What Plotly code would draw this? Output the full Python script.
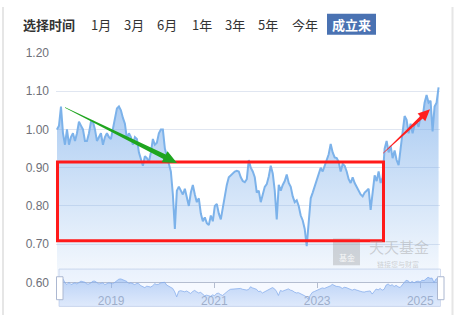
import math
import pandas as pd
import plotly.graph_objects as go

# ---------------- data ----------------
start_date = "2017-12-13"
nav = [
    1.00, 1.01, 1.06, 0.99, 0.96, 1.00, 0.96, 0.98, 0.99, 0.97,
    0.99, 1.02, 1.01, 1.00, 0.97, 0.97, 0.99, 1.02, 1.02, 1.00,
    0.97, 0.98, 0.99, 0.96, 0.98, 0.99, 0.98, 0.975, 1.00, 1.03,
    1.055, 1.06, 1.05, 1.03, 1.015, 0.975, 0.99, 0.98, 0.96, 0.98,
    0.975, 0.94, 0.92, 0.905, 0.93, 0.925, 0.915, 0.94, 0.975, 0.96,
    0.965, 0.99, 1.00, 1.00, 0.95, 0.93, 0.915, 0.89, 0.83, 0.74,
    0.84, 0.85, 0.84, 0.83, 0.845, 0.82, 0.80, 0.835, 0.855, 0.83,
    0.81, 0.82, 0.78, 0.76, 0.77, 0.755, 0.75, 0.775, 0.76, 0.80,
    0.805, 0.78, 0.765, 0.795, 0.83, 0.855, 0.875, 0.88, 0.887, 0.89,
    0.892, 0.89, 0.875, 0.865, 0.862, 0.87, 0.92, 0.90, 0.89, 0.875,
    0.835, 0.84, 0.81, 0.83, 0.85, 0.857, 0.877, 0.905, 0.885, 0.84,
    0.765, 0.855, 0.84, 0.855, 0.865, 0.882, 0.86, 0.85, 0.825, 0.81,
    0.815, 0.80, 0.775, 0.762, 0.74, 0.695, 0.77, 0.82, 0.835, 0.85,
    0.87, 0.885, 0.90, 0.89, 0.905, 0.915, 0.935, 0.962, 0.94, 0.927,
    0.925, 0.915, 0.89, 0.91, 0.905, 0.89, 0.87, 0.86, 0.875, 0.86,
    0.85, 0.84, 0.83, 0.825, 0.835, 0.84, 0.845, 0.79, 0.845, 0.88,
    0.865, 0.89, 0.86, 0.875, 0.95, 0.97, 0.94, 0.957, 0.925, 0.945,
    0.92, 0.907, 0.95, 1.00, 1.035, 1.025, 0.99, 1.015, 0.99, 1.012,
    1.02, 1.007, 1.035, 1.03, 1.07, 1.09, 1.07, 1.075, 0.995, 1.06,
    1.07, 1.11,
]
dates = pd.date_range(start_date, periods=len(nav), freq="340h")

year_ticks = ["2019-01-01", "2021-01-01", "2023-01-01", "2025-01-01"]
year_labels = ["2019", "2021", "2023", "2025"]
y_ticks = [0.6, 0.7, 0.8, 0.9, 1.0, 1.1, 1.2]
tab_labels = ["1月", "3月", "6月", "1年", "3年", "5年", "今年"]
active_tab = "成立来"
title_label = "选择时间"

# ---------------- layout helpers ----------------
W, H = 462, 322


def px(x):
    return x / W


def py(y):
    return 1 - y / H


CJK = "Noto Sans CJK SC"
NUMF = "Liberation Sans, Arial"

fig = go.Figure()

# main area series
fig.add_trace(go.Scatter(
    x=dates, y=nav, mode="lines",
    line=dict(color="rgb(124,178,234)", width=2),
    fill="tozeroy",
    fillgradient=dict(type="vertical",
                      colorscale=[[0, "rgba(120,172,234,0.03)"],
                                  [1, "rgba(110,166,232,0.62)"]],
                      start=0.6, stop=1.11),
    xaxis="x", yaxis="y", hoverinfo="skip",
))

# data shadow in the zoom slider
fig.add_trace(go.Scatter(
    x=dates, y=nav, mode="lines",
    line=dict(color="rgba(130,170,235,0.9)", width=0.8),
    fill="tozeroy",
    fillgradient=dict(type="vertical",
                      colorscale=[[0, "rgba(150,185,240,0.22)"],
                                  [1, "rgba(140,180,240,0.6)"]],
                      start=0.57, stop=1.11),
    xaxis="x2", yaxis="y2", hoverinfo="skip",
))

fig.update_layout(
    width=W, height=H,
    margin=dict(l=0, r=0, t=0, b=0),
    paper_bgcolor="white", plot_bgcolor="rgba(0,0,0,0)",
    showlegend=False,
    xaxis=dict(
        domain=[px(56), px(440)], type="date",
        range=["2017-12-06", "2025-05-21"],
        tickvals=year_ticks, ticktext=year_labels,
        ticks="outside", ticklen=5, tickcolor="#b4bdd0",
        showline=True, linecolor="#b4bdd0", linewidth=1,
        showgrid=False, zeroline=False,
        tickfont=dict(family=NUMF, size=12, color="#a2aabb"),
        ticklabelstandoff=2,
    ),
    yaxis=dict(
        domain=[py(288), py(48)], range=[0.6, 1.2],
        tickvals=y_ticks, tickformat=".2f",
        showgrid=True, gridcolor="#e0e6f1", gridwidth=1,
        zeroline=False, showline=False, ticks="",
        tickfont=dict(family=NUMF, size=12, color="#6e7079"),
        ticklabelstandoff=6,
    ),
    xaxis2=dict(
        domain=[px(59), px(440)], type="date",
        range=[dates[0], dates[-1]], anchor="y2",
        visible=False, showgrid=False,
    ),
    yaxis2=dict(
        domain=[py(313), py(274)], range=[0.57, 1.235], anchor="x2",
        visible=False, showgrid=False,
    ),
)

shapes = []
# outer side border lines
for xl in (3, 452.5):
    shapes.append(dict(type="line", xref="paper", yref="paper",
                       x0=px(xl), x1=px(xl), y0=0, y1=1,
                       line=dict(color="#e6e6e6", width=2), layer="below"))
# slider background
shapes.append(dict(type="rect", xref="paper", yref="paper",
                   x0=px(59), x1=px(440.5), y0=py(313), y1=py(274),
                   fillcolor="rgba(135,175,255,0.08)",
                   line=dict(color="#d2dbee", width=1), layer="below"))
# slider handles
for hx in (56.5, 437.5):
    shapes.append(dict(type="rect", xref="paper", yref="paper",
                       x0=px(hx), x1=px(hx + 6.5), y0=py(306), y1=py(282),
                       fillcolor="white",
                       line=dict(color="#acb8d1", width=1), layer="above"))
# active tab button
shapes.append(dict(type="rect", xref="paper", yref="paper",
                   x0=px(327), x1=px(376), y0=py(29), y1=py(7),
                   fillcolor="#4a72b2", line=dict(width=0), layer="below"))
# watermark logo box
shapes.append(dict(type="rect", xref="paper", yref="paper",
                   x0=px(333), x1=px(360), y0=py(270), y1=py(242),
                   fillcolor="rgba(150,150,150,0.35)", line=dict(width=0),
                   layer="above"))
# red rectangle
shapes.append(dict(type="rect", xref="paper", yref="paper",
                   x0=px(57.5), x1=px(383.5), y0=py(244.5), y1=py(162),
                   fillcolor="rgba(0,0,0,0)",
                   line=dict(color="#ff1a1a", width=3), layer="above"))


def arrow_path(sx, sy, tx, ty, w0, w1, head_len, head_w):
    dx, dy = tx - sx, ty - sy
    L = math.hypot(dx, dy)
    ux, uy = dx / L, dy / L
    nx, ny = -uy, ux
    bx, by = tx - ux * head_len, ty - uy * head_len
    pts = [(sx + nx * w0, sy + ny * w0),
           (bx + nx * w1, by + ny * w1),
           (bx + nx * head_w, by + ny * head_w),
           (tx, ty),
           (bx - nx * head_w, by - ny * head_w),
           (bx - nx * w1, by - ny * w1),
           (sx - nx * w0, sy - ny * w0)]
    return "M " + " L ".join(f"{px(x):.5f},{py(y):.5f}" for x, y in pts) + " Z"


shapes.append(dict(type="path", xref="paper", yref="paper",
                   path=arrow_path(65, 105, 177, 163, 0.3, 2.6, 14, 6.5),
                   fillcolor="#1fa51f", line=dict(width=0), layer="above"))
shapes.append(dict(type="path", xref="paper", yref="paper",
                   path=arrow_path(383, 153, 430, 107, 0.3, 1.8, 12, 5.5),
                   fillcolor="#ff2020", line=dict(width=0), layer="above"))

fig.update_layout(shapes=shapes)

ann = []
ann.append(dict(text=f"<b>{title_label}</b>", x=px(49), y=py(18),
                xref="paper", yref="paper", showarrow=False,
                xanchor="center", yanchor="middle",
                font=dict(family=CJK, size=13, color="#333333")))
tab_x = [101, 133.5, 167, 202, 234.5, 268, 305]
for lab, tx in zip(tab_labels, tab_x):
    ann.append(dict(text=lab, x=px(tx), y=py(18), xref="paper", yref="paper",
                    showarrow=False, xanchor="center", yanchor="middle",
                    font=dict(family=CJK, size=13, color="#333333")))
ann.append(dict(text=f"<b>{active_tab}</b>", x=px(351.5), y=py(18),
                xref="paper", yref="paper", showarrow=False,
                xanchor="center", yanchor="middle",
                font=dict(family=CJK, size=13, color="white")))
# watermark text
ann.append(dict(text="基金", x=px(346.5), y=py(262), xref="paper", yref="paper",
                showarrow=False, xanchor="center", yanchor="middle",
                font=dict(family=CJK, size=8, color="rgba(255,255,255,0.85)")))
ann.append(dict(text="天天基金", x=px(399), y=py(262), xref="paper", yref="paper",
                showarrow=False, xanchor="center", yanchor="bottom",
                borderpad=0,
                font=dict(family=CJK, size=15, color="rgba(160,160,160,0.45)")))
ann.append(dict(text="链接您与财富", x=px(398), y=py(262.5), xref="paper", yref="paper",
                showarrow=False, xanchor="center", yanchor="top",
                borderpad=0,
                font=dict(family=CJK, size=7, color="rgba(160,160,160,0.45)")))
fig.update_layout(annotations=ann)

fig.write_html("out.html")
